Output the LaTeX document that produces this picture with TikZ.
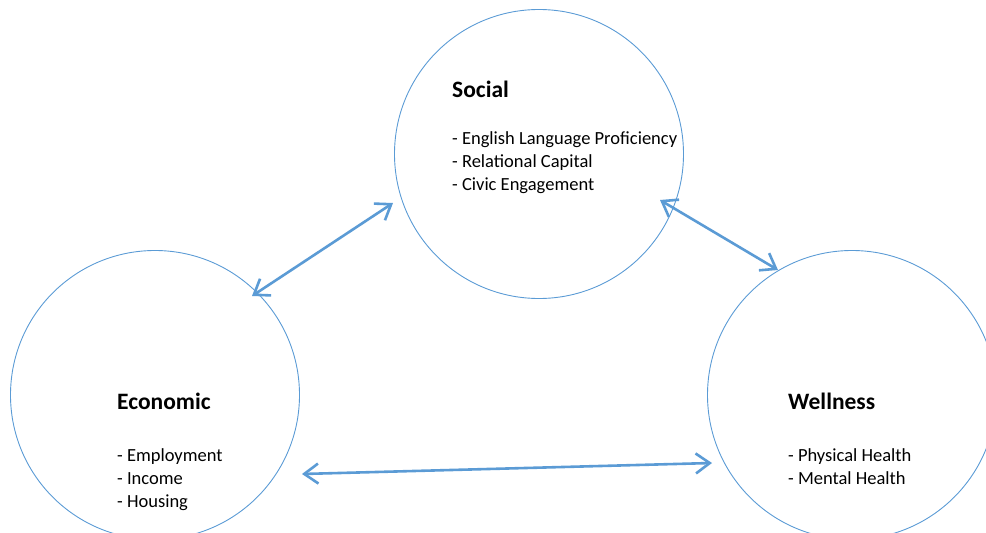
\documentclass[tikz,border=0pt]{standalone}
\usepackage{fontspec}
\setmainfont{Carlito}
\usepackage{xcolor}
\usepackage{tikz}
\usetikzlibrary{arrows.meta,shapes}
\definecolor{areablue}{RGB}{91,155,213}
\begin{document}
\begin{tikzpicture}[x=1pt,y=-1pt,
        area/.style={circle,draw=areablue,line width=0.9pt,minimum size=289pt,inner sep=0pt},
        areahead/.style={anchor=base west,inner sep=0pt,font=\fontsize{23.5}{28}\selectfont\bfseries},
        arealist/.style={anchor=base west,inner sep=0pt,align=left,font=\fontsize{18.5}{22.6}\selectfont},
        link/.style={draw=areablue,line width=2.6pt,{Straight Barb[length=14pt,width=20pt]}-{Straight Barb[length=14pt,width=20pt]}}]
        \useasboundingbox (0,0) rectangle (986,533);
        %circles
        \node[area] (social) at (539,154) {};
        \node[area] (economic) at (155,395) {};
        \node[area] (wellness) at (852,395) {};
        %texts (base = last line)
        \node[areahead] (socialhead) at (452,97) {Social};
        \node[arealist] (sociallist) at (452,190) {- English Language Proficiency\\- Relational Capital\\- Civic Engagement};
        \node[areahead] (economichead) at (117,409) {Economic};
        \node[arealist] (economiclist) at (117,507) {- Employment\\- Income\\- Housing};
        \node[areahead] (wellnesshead) at (788,409) {Wellness};
        \node[arealist] (wellnesslist) at (788,484) {- Physical Health\\- Mental Health};
        %arrow ends
        \coordinate (es) at (252,296);
        \coordinate (se) at (393,203);
        \coordinate (sw) at (660,200);
        \coordinate (ws) at (778,270);
        \coordinate (ew) at (302,474);
        \coordinate (we) at (712,463);
        \draw[link] (es) -- (se);
        \draw[link] (sw) -- (ws);
        \draw[link] (ew) -- (we);
\end{tikzpicture}
\end{document}
